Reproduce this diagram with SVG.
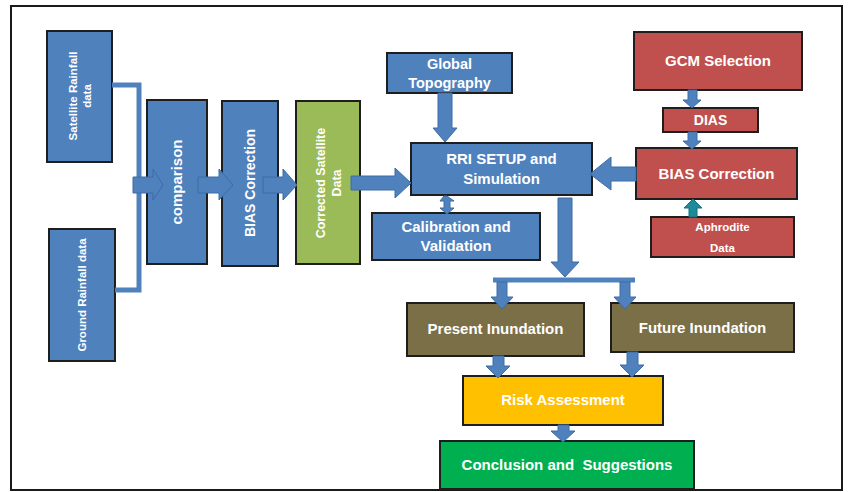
<svg xmlns="http://www.w3.org/2000/svg" width="851" height="492" viewBox="0 0 851 492">
<style>
.box{stroke:#1e1e1e;stroke-width:2}
.blue{fill:#4f81bd}
.red{fill:#c0504d}
.lg{fill:#9bbb59}
.ol{fill:#7b6f48}
.yel{fill:#ffc000}
.gr{fill:#00b050}
.arr{fill:#4f81bd;stroke:#3d6da6;stroke-width:1}
.line{fill:none;stroke:#4f81bd;stroke-width:5}
text{font-family:"Liberation Sans",Arial,sans-serif;font-weight:bold;fill:#ffffff;text-anchor:middle}
</style>
<rect x="0" y="0" width="851" height="492" fill="#ffffff"/>
<rect x="11" y="6" width="831" height="484" fill="#ffffff" stroke="#1a1a1a" stroke-width="2"/>

<g id="satellite-rainfall">
  <rect class="box blue" x="47" y="31" width="65" height="131"/>
  <text transform="translate(80,96) rotate(-90)" font-size="11.5"><tspan x="0" y="-3">Satellite Rainfall</tspan><tspan x="0" y="11">data</tspan></text>
</g>
<g id="ground-rainfall">
  <rect class="box blue" x="49" y="229" width="66" height="132"/>
  <text transform="translate(82,295) rotate(-90)" font-size="11.5" y="4">Ground Rainfall data</text>
</g>
<g id="comparison">
  <rect class="box blue" x="147" y="100" width="60" height="164"/>
  <text transform="translate(177,182) rotate(-90)" font-size="15" y="5">comparison</text>
</g>
<g id="bias-correction-1">
  <rect class="box blue" x="222" y="101" width="56" height="165"/>
  <text transform="translate(250,183) rotate(-90)" font-size="14" y="5">BIAS Correction</text>
</g>
<g id="corrected-satellite">
  <rect class="box lg" x="296" y="101" width="64" height="163"/>
  <text transform="translate(328,183) rotate(-90)" font-size="12.5"><tspan x="0" y="-3">Corrected Satellite</tspan><tspan x="0" y="13">Data</tspan></text>
</g>
<g id="global-topography">
  <rect class="box blue" x="387" y="53" width="125" height="40"/>
  <text x="449.5" y="69" font-size="14.5">Global</text>
  <text x="449.5" y="88" font-size="14.5">Topography</text>
</g>
<g id="rri-setup">
  <rect class="box blue" x="411" y="143" width="181" height="52"/>
  <text x="501.5" y="164" font-size="15">RRI SETUP and</text>
  <text x="501.5" y="184" font-size="15">Simulation</text>
</g>
<g id="calibration">
  <rect class="box blue" x="372" y="213" width="168" height="47"/>
  <text x="456" y="232" font-size="15">Calibration and</text>
  <text x="456" y="251" font-size="15">Validation</text>
</g>
<g id="gcm-selection">
  <rect class="box red" x="634" y="32" width="168" height="58"/>
  <text x="718" y="66" font-size="15">GCM Selection</text>
</g>
<g id="dias">
  <rect class="box red" x="663" y="108" width="95" height="24"/>
  <text x="710.5" y="125" font-size="14">DIAS</text>
</g>
<g id="bias-correction-2">
  <rect class="box red" x="636" y="148" width="161" height="51"/>
  <text x="716.5" y="179" font-size="15">BIAS Correction</text>
</g>
<g id="aphrodite">
  <rect class="box red" x="651" y="217" width="143" height="40"/>
  <text x="722.5" y="231" font-size="11.5">Aphrodite</text>
  <text x="722.5" y="252" font-size="11.5">Data</text>
</g>
<g id="present-inundation">
  <rect class="box ol" x="407" y="303" width="177" height="53"/>
  <text x="495.5" y="334" font-size="15">Present Inundation</text>
</g>
<g id="future-inundation">
  <rect class="box ol" x="611" y="303" width="183" height="49"/>
  <text x="702.5" y="333" font-size="15">Future Inundation</text>
</g>
<g id="risk-assessment">
  <rect class="box yel" x="463" y="376" width="200" height="49"/>
  <text x="563" y="405" font-size="15">Risk Assessment</text>
</g>
<g id="conclusion">
  <rect class="box gr" x="440" y="441" width="254" height="48"/>
  <text x="567" y="470" font-size="15" xml:space="preserve">Conclusion and  Suggestions</text>
</g>

<g id="connectors">
  <polyline class="line" points="112,85 139,85 139,290 115,290"/>
  <polygon class="arr" points="133,177 153,177 153,169 163,185 153,200 153,193 133,193"/>
  <polygon class="arr" points="198,177 219,177 219,169 233,185 219,200 219,193 198,193"/>
  <polygon class="arr" points="263,177 283,177 283,169 297,185 283,200 283,193 263,193"/>
  <polygon class="arr" points="351,176 395,176 395,168 411,183 395,198 395,190 351,190"/>
  <polygon class="arr" points="438,93 452,93 452,128 457,128 445,142 433,128 438,128"/>
  <polygon class="arr" points="444,196 440,201 444,201 444,208 440,208 447,214 454,208 450,208 450,201 454,201 447,196"/>
  <polygon class="arr" points="558,198 572,198 572,262 579,262 565,277 551,262 558,262"/>
  <polyline class="line" points="493,280 635,280"/>
  <polygon class="arr" points="497,282 507,282 507,297 513,297 502,309 491,297 497,297"/>
  <polygon class="arr" points="620,282 630,282 630,297 636,297 625,309 614,297 620,297"/>
  <polygon class="arr" points="493,356 504,356 504,366 510,366 498,378 486,366 493,366"/>
  <polygon class="arr" points="627,352 638,352 638,365 644,365 632,377 620,365 627,365"/>
  <polygon class="arr" points="558,425 569,425 569,431 575,431 563,442 551,431 558,431"/>
  <polygon class="arr" points="688,90 697,90 697,100 701,100 692,108 683,100 688,100"/>
  <polygon class="arr" points="688,132 697,132 697,141 701,141 692,149 683,141 688,141"/>
  <polygon class="arr" points="636,167 611,167 611,157 590,174 611,190 611,181 636,181"/>
  <polygon points="689,217 697,217 697,208 702,208 693,199 684,208 689,208" fill="#1f8a9a" stroke="#17707d" stroke-width="1"/>
</g>
</svg>
